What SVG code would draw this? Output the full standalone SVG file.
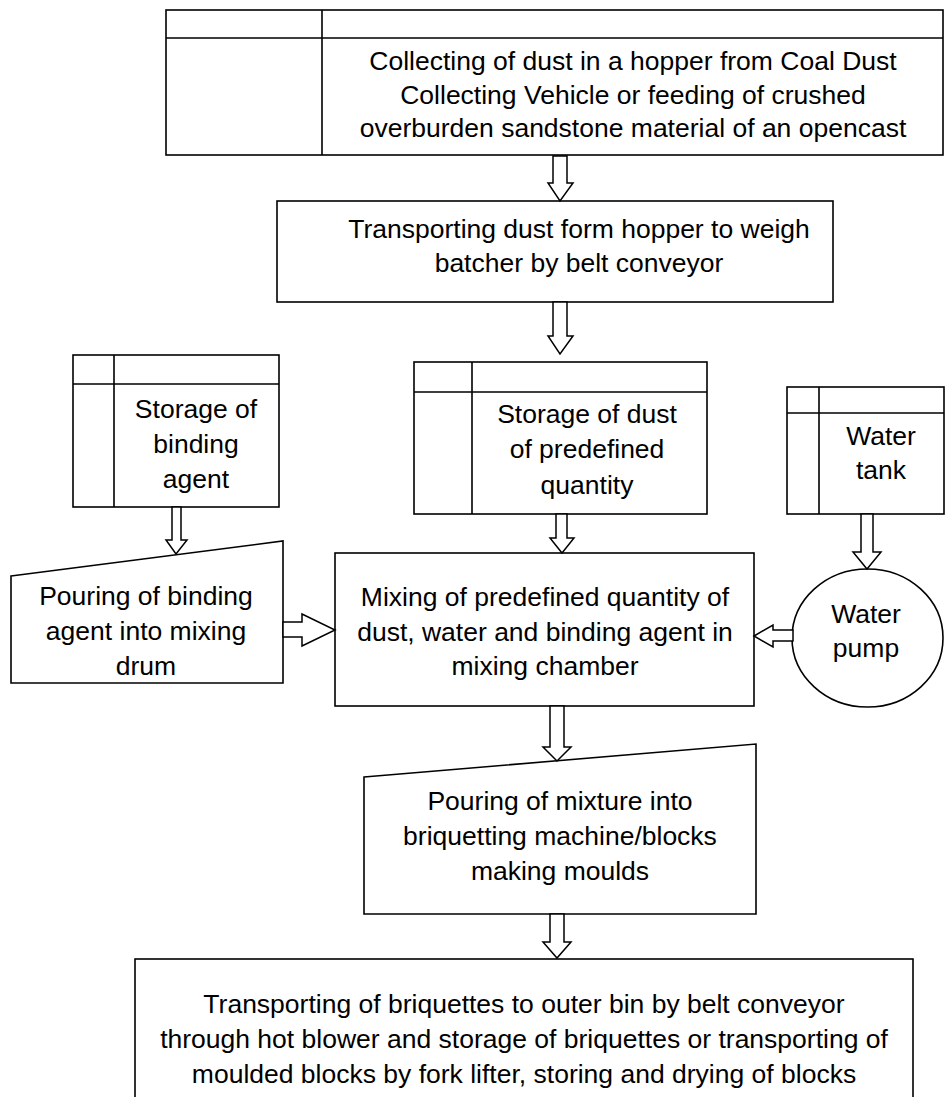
<svg xmlns="http://www.w3.org/2000/svg" width="945" height="1097" viewBox="0 0 945 1097">
<style>
.s{fill:#fff;stroke:#000;stroke-width:1.6}
.l{fill:none;stroke:#000;stroke-width:1.6}
.a{fill:#fff;stroke:#000;stroke-width:1.5;stroke-linejoin:miter}
text{font-family:"Liberation Sans",Arial,sans-serif;font-size:26.5px;fill:#000;text-anchor:middle}
</style>
<rect width="945" height="1097" fill="#fff"/>
<g id="n1">
<rect class="s" x="166" y="10" width="777" height="145"/>
<path class="l" d="M166 38H943M322 10V155"/>
<text x="633" y="70">Collecting of dust in a hopper from Coal Dust</text>
<text x="633" y="104">Collecting Vehicle or feeding of crushed</text>
<text x="633" y="137">overburden sandstone material of an opencast</text>
</g>
<g id="n2">
<rect class="s" x="277" y="201" width="556" height="101"/>
<text x="579" y="238">Transporting dust form hopper to weigh</text>
<text x="579" y="272">batcher by belt conveyor</text>
</g>
<g id="n3">
<rect class="s" x="73" y="355" width="206" height="152"/>
<path class="l" d="M73 384H279M114 355V507"/>
<text x="196" y="418">Storage of</text>
<text x="196" y="453">binding</text>
<text x="196" y="488">agent</text>
</g>
<g id="n4">
<rect class="s" x="414" y="362" width="293" height="152"/>
<path class="l" d="M414 392H707M472 362V514"/>
<text x="587" y="423">Storage of dust</text>
<text x="587" y="458">of predefined</text>
<text x="587" y="494">quantity</text>
</g>
<g id="n5">
<rect class="s" x="787" y="387" width="157" height="127"/>
<path class="l" d="M787 413H944M819 387V514"/>
<text x="881" y="445">Water</text>
<text x="881" y="479">tank</text>
</g>
<g id="n6">
<polygon class="s" points="11,576 283,541 283,683 11,683"/>
<text x="146" y="605">Pouring of binding</text>
<text x="146" y="640">agent into mixing</text>
<text x="146" y="675">drum</text>
</g>
<g id="n7">
<rect class="s" x="335" y="553" width="419" height="153"/>
<text x="545" y="606">Mixing of predefined quantity of</text>
<text x="545" y="641">dust, water and binding agent in</text>
<text x="545" y="675">mixing chamber</text>
</g>
<g id="n8">
<ellipse class="s" cx="867.5" cy="638" rx="75.5" ry="69"/>
<text x="866" y="623">Water</text>
<text x="866" y="657">pump</text>
</g>
<g id="n9">
<polygon class="s" points="364,777 756,744 756,914 364,914"/>
<text x="560" y="810">Pouring of mixture into</text>
<text x="560" y="845">briquetting machine/blocks</text>
<text x="560" y="880">making moulds</text>
</g>
<g id="n10">
<rect class="s" x="135" y="959" width="778" height="160"/>
<text x="524" y="1013">Transporting of briquettes to outer bin by belt conveyor</text>
<text x="524" y="1048">through hot blower and storage of briquettes or transporting of</text>
<text x="524" y="1083">moulded blocks by fork lifter, storing and drying of blocks</text>
</g>
<g id="connectors">
<polygon class="a" points="553,156 567,156 567,183 573,183 560,201 548,183 553,183"/>
<polygon class="a" points="553,302 567,302 567,336 573,336 560,354 548,336 553,336"/>
<polygon class="a" points="172,507 181,507 181,540 187,540 176,554 166,540 172,540"/>
<polygon class="a" points="556,514 567,514 567,538 574,538 562,553 550,538 556,538"/>
<polygon class="a" points="861,514 873,514 873,552 881,552 867,569 853,552 861,552"/>
<polygon class="a" points="283,622 302,622 302,614 335,630 302,646 302,637 283,637"/>
<polygon class="a" points="793,630 773,630 773,625 754,636 773,647 773,641 793,641"/>
<polygon class="a" points="550,706 564,706 564,747 571,747 557,761 543,747 550,747"/>
<polygon class="a" points="550,914 564,914 564,942 571,942 557,958 543,942 550,942"/>
</g>
</svg>
